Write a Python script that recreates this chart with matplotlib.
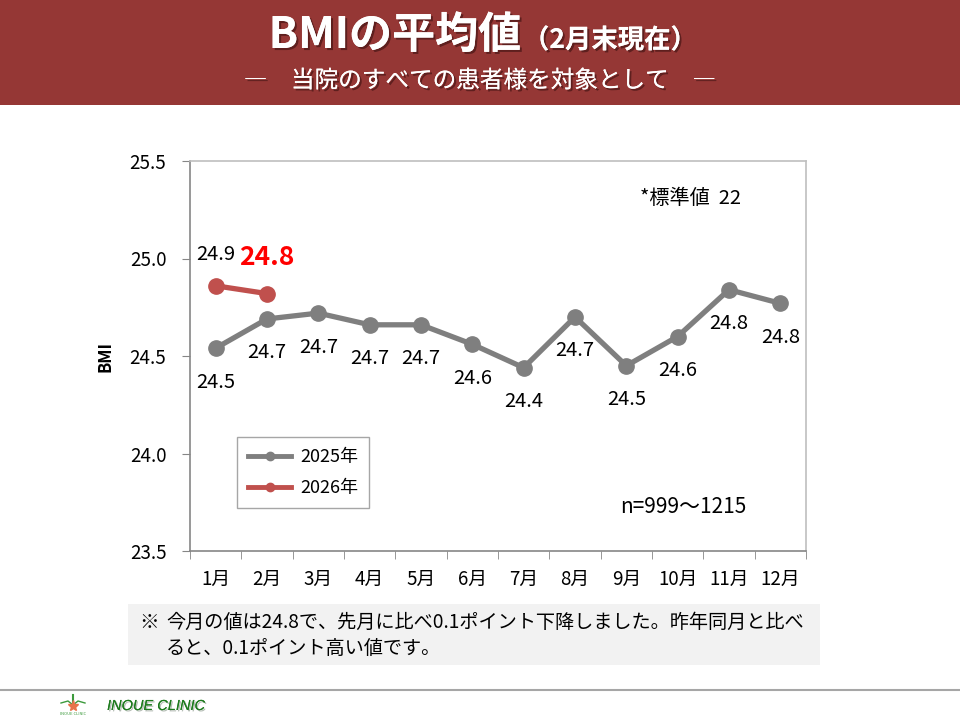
import matplotlib
matplotlib.use('Agg')
from matplotlib import pyplot as plt
from matplotlib.patches import Rectangle
from matplotlib.lines import Line2D
import matplotlib.patheffects as pe
import numpy as np

plt.rcParams['font.family'] = ['Noto Sans CJK JP', 'DejaVu Sans']

months = ['1月', '2月', '3月', '4月', '5月', '6月',
          '7月', '8月', '9月', '10月', '11月', '12月']
bmi_2025 = [24.54, 24.69, 24.72, 24.66, 24.66, 24.56,
            24.44, 24.70, 24.45, 24.60, 24.84, 24.77]
bmi_2026 = [24.86, 24.82]
labels_2025 = ['24.5', '24.7', '24.7', '24.7', '24.7', '24.6',
               '24.4', '24.7', '24.5', '24.6', '24.8', '24.8']
labels_2026 = ['24.9', '24.8']
y_ticks = [23.5, 24.0, 24.5, 25.0, 25.5]

gray = '#7F7F7F'
red = '#C0504D'
W, H = 960, 720


def fx(px):
    return px / W


def fy(py):
    return 1 - py / H


fig = plt.figure(figsize=(9.6, 7.2), dpi=100)

# header band
fig.patches.append(Rectangle((0, fy(105)), 1, 105 / H, transform=fig.transFigure,
                             facecolor='#953735', edgecolor='none', zorder=0))
shadow = [pe.withSimplePatchShadow(offset=(1.5, -1.5), shadow_rgbFace='#3a1010', alpha=0.6),
          pe.Normal()]
fig.text(fx(521), fy(48), 'BMIの平均値', color='white', fontsize=31, fontweight='bold',
         ha='right', va='baseline', path_effects=shadow)
fig.text(fx(523), fy(48), '（2月末現在）', color='white', fontsize=19, fontweight='bold',
         ha='left', va='baseline', path_effects=shadow)
fig.text(0.5, fy(81), '―　当院のすべての患者様を対象として　―', color='white',
         fontsize=17, ha='center', va='center', path_effects=shadow)

# chart
ax = fig.add_axes([fx(190), fy(551), (806 - 190) / W, (551 - 161) / H])
x = np.arange(len(months))
ax.plot(x, bmi_2025, color=gray, lw=3.8, marker='o', ms=11, zorder=3)
ax.plot(x[:len(bmi_2026)], bmi_2026, color=red, lw=3.8, marker='o', ms=11, zorder=4)

for xi, v, s in zip(x, bmi_2025, labels_2025):
    ax.annotate(s, (xi, v), xytext=(0, -34), textcoords='offset pixels',
                ha='center', va='center', fontsize=14.5, color='black')
ax.annotate(labels_2026[0], (x[0], bmi_2026[0]), xytext=(0, 31), textcoords='offset pixels',
            ha='center', va='center', fontsize=14.5, color='black')
ax.annotate(labels_2026[1], (x[1], bmi_2026[1]), xytext=(0, 36), textcoords='offset pixels',
            ha='center', va='center', fontsize=19, color='#FF0000', fontweight='bold')

ax.set_xlim(-0.5, len(months) - 0.5)
ax.set_ylim(23.5, 25.5)
ax.set_yticks(y_ticks)
ax.set_yticklabels(['%.1f' % t for t in y_ticks])
ax.set_xticks(x)
ax.set_xticklabels(months)
ax.set_xticks(np.arange(-0.5, len(months)), minor=True)
ax.tick_params(axis='x', which='major', length=0, pad=13, labelsize=13.5)
ax.tick_params(axis='x', which='minor', length=6, color='#868686', direction='out')
ax.tick_params(axis='y', length=6, color='#868686', pad=11, labelsize=13.5)
for side in ['left', 'bottom']:
    ax.spines[side].set_color('#868686')
    ax.spines[side].set_linewidth(1.2)
for side in ['top', 'right']:
    ax.spines[side].set_color('#BFBFBF')
    ax.spines[side].set_linewidth(1.2)

ax.text(0.812, 0.905, '*標準値  22', transform=ax.transAxes, ha='center', va='center',
        fontsize=14.5)
ax.text(0.80, 0.113, 'n=999～1215', transform=ax.transAxes, ha='center', va='center',
        fontsize=15)

handles = [Line2D([], [], color=gray, lw=3.5, marker='o', ms=6),
           Line2D([], [], color=red, lw=3.5, marker='o', ms=6)]
leg = ax.legend(handles, ['2025年', '2026年'], loc='upper left',
                bbox_to_anchor=((237 - 190) / 616, (551 - 437) / 390),
                borderaxespad=0, fancybox=False, edgecolor='#A6A6A6', fontsize=13,
                handlelength=2.4, handletextpad=0.5, labelspacing=0.75, borderpad=0.6,
                framealpha=1)
leg.get_frame().set_linewidth(1)

fig.text(fx(105), fy(356), 'BMI', rotation=90, ha='center', va='center',
         fontsize=12, fontweight='bold')

# note box
fig.patches.append(Rectangle((fx(128), fy(665)), (820 - 128) / W, (665 - 604) / H,
                             transform=fig.transFigure, facecolor='#F2F2F2',
                             edgecolor='none', zorder=0))
fig.text(fx(139), fy(622), '※', fontsize=14, ha='left', va='center')
fig.text(fx(166), fy(622), '今月の値は24.8で、先月に比べ0.1ポイント下降しました。昨年同月と比べ',
         fontsize=13.8, ha='left', va='center')
fig.text(fx(166), fy(649), 'ると、0.1ポイント高い値です。',
         fontsize=13.8, ha='left', va='center')

# footer
fig.add_artist(Line2D([0, 1], [fy(690), fy(690)], transform=fig.transFigure,
                      color='#A6A6A6', lw=1.5))
fig.add_artist(Line2D([fx(73), fx(73)], [fy(695), fy(707)], transform=fig.transFigure,
                      color='#3C9A3C', lw=1.5))
fig.add_artist(Line2D([fx(61), fx(68), fx(73), fx(78), fx(85)],
                      [fy(703), fy(701), fy(705), fy(701), fy(703)],
                      transform=fig.transFigure, color='#3C9A3C', lw=1))
fig.add_artist(Line2D([fx(73)], [fy(706)], transform=fig.transFigure, marker='*',
                      color='#E8734A', ms=8, lw=0))
fig.text(fx(73), fy(714), 'INOUE CLINIC', fontsize=3, color='#3C9A3C', ha='center', va='center')
fig.text(fx(107), fy(706), 'INOUE CLINIC', fontsize=10.5, fontstyle='italic',
         color='#1E7B1E', family='Liberation Sans', ha='left', va='center',
         path_effects=[pe.withSimplePatchShadow(offset=(1, -1), alpha=0.3), pe.Normal()])

fig.savefig('out.png', dpi=100)
